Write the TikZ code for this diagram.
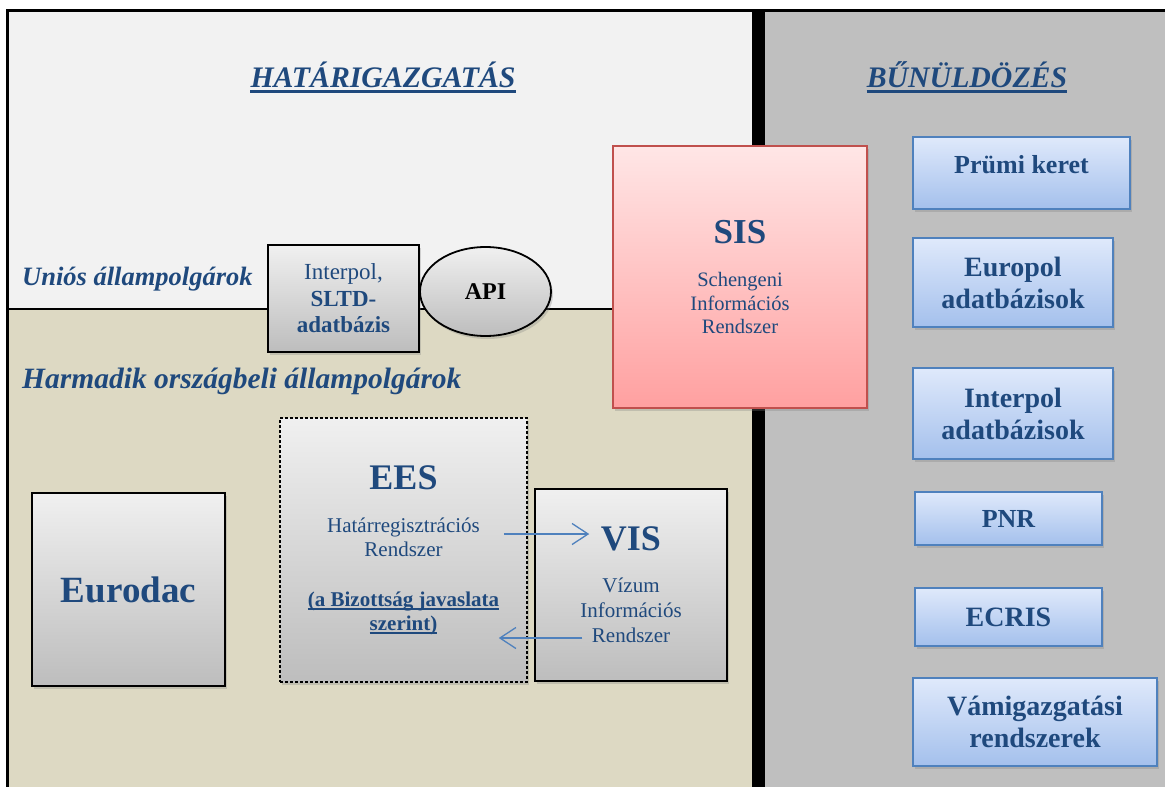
\documentclass[tikz,border=0pt]{standalone}
\usepackage{fontspec}
\setmainfont{Liberation Serif}
\usetikzlibrary{arrows.meta,shadows,shapes.geometric}

\definecolor{txtblue}{HTML}{1F497D}
\definecolor{bgLight}{HTML}{F2F2F2}
\definecolor{bgTan}{HTML}{DDD9C3}
\definecolor{bgGray}{HTML}{BFBFBF}
\definecolor{grayTop}{HTML}{F0F0F0}
\definecolor{grayBot}{HTML}{BDBDBD}
\definecolor{blueTop}{HTML}{DFE9FB}
\definecolor{blueBot}{HTML}{A4C0EC}
\definecolor{boxBlue}{HTML}{4F81BD}
\definecolor{sisTop}{HTML}{FFE6E6}
\definecolor{sisBot}{HTML}{FFA0A0}
\definecolor{sisRed}{HTML}{C0504D}

\newcommand{\pxfont}[2]{\fontsize{#1}{#2}\selectfont}
\newsavebox{\ulbox}
\newcommand{\thickul}[1]{\sbox{\ulbox}{#1}\usebox{\ulbox}\llap{\rule[-3.5pt]{\wd\ulbox}{1.8pt}}}

\begin{document}
\begin{tikzpicture}[x=1pt, y=-1pt,
    every node/.style={text=txtblue, align=center, inner sep=0pt},
    shadowed/.style={drop shadow={opacity=.3, shadow xshift=2pt, shadow yshift=-3pt}},
    sysbox/.style={shadowed, draw=black, line width=1.5pt, top color=grayTop, bottom color=grayBot},
    dbbox/.style={shadowed, draw=boxBlue, line width=1.8pt, top color=blueTop, bottom color=blueBot, font=\pxfont{28}{32}\bfseries},
    title/.style={anchor=base, font=\pxfont{29.8}{34}\bfseries\itshape},
    grouplabel/.style={anchor=base west, font=\pxfont{26.5}{30}\bfseries\itshape},
    flow/.style={-{Straight Barb[length=16pt,width=21pt]}, draw=boxBlue, line width=1.3pt}]
    \useasboundingbox (0,0) rectangle (1165,787);
    \clip (0,0) rectangle (1165,787);
    % panels
    \fill[white] (0,0) rectangle (1165,787);
    \fill[bgLight] (7,10) rectangle (752,309);
    \fill[bgTan] (7,309) rectangle (752,800);
    \fill[bgGray] (765,10) rectangle (1180,800);
    \fill[black] (752,10) rectangle (765,800);
    \draw[line width=2pt] (7,309) -- (752,309);
    \draw[line width=3pt] (7,800) -- (7,10) -- (1180,10);
    % headings
    \node[title] (hat) at (383,87) {HATÁRIGAZGATÁS};
    \node[title] (bun) at (967,87) {BŰNÜLDÖZÉS};
    \foreach \t in {hat, bun} {
        \draw[txtblue, line width=3pt] ([yshift=-4.5pt]\t.base west) -- ([yshift=-4.5pt]\t.base east);
    }
    \node[grouplabel] (eu)  at (22,285) {Uniós állampolgárok};
    \node[grouplabel, font=\pxfont{29.5}{33}\bfseries\itshape] (tcn) at (22,388) {Harmadik országbeli állampolgárok};
    % border systems
    \node[sysbox, minimum width=151pt, minimum height=107pt, font=\pxfont{23}{26.5}] (sltd) at (343.5,298.5)
        {Interpol,\\\textbf{SLTD-}\\\textbf{adatbázis}};
    \node[ellipse, shadowed, draw=black, line width=1.8pt, top color=grayTop, bottom color=grayBot,
          minimum width=131pt, minimum height=89pt, text=black, font=\pxfont{24}{28}\bfseries] (api) at (485.5,291.5) {API};
    \node[shadowed, draw=sisRed, line width=1.8pt, top color=sisTop, bottom color=sisBot,
          minimum width=254pt, minimum height=262pt, font=\pxfont{20.5}{23.5}] (sis) at (740,277)
        {{\pxfont{35}{35}\bfseries SIS}\\[20pt]Schengeni\\Információs\\Rendszer};
    \node[sysbox, dash pattern=on 3pt off 2pt, minimum width=247pt, minimum height=264pt, font=\pxfont{21}{24}] (ees) at (403.5,550)
        {{\pxfont{36}{36}\bfseries EES}\\[19pt]Határregisztrációs\\Rendszer\\[26pt]
         \thickul{\bfseries(a Bizottság javaslata}\\\thickul{\bfseries szerint)}};
    \node[sysbox, minimum width=192pt, minimum height=192pt, font=\pxfont{21}{25}] (vis) at (631,585)
        {{\pxfont{36}{36}\bfseries VIS}\\[17pt]Vízum\\Információs\\Rendszer};
    \node[sysbox, minimum width=193pt, minimum height=193pt, font=\pxfont{37}{40}\bfseries] (eurodac) at (128.5,589.5) {Eurodac};
    \draw[flow] ([shift={(-24,-16)}]ees.east) -- ([shift={(55,-51)}]vis.west);
    \draw[flow] ([shift={(48,53)}]vis.west) -- ([shift={(-29,88)}]ees.east);
    % law enforcement
    \node[dbbox, minimum width=217pt, minimum height=72pt, text depth=17pt, font=\pxfont{26}{30}\bfseries] (prum) at (1021.5,173) {Prümi keret};
    \node[dbbox, minimum width=200pt, minimum height=89pt] (europol) at (1013,282.5) {Europol\\adatbázisok};
    \node[dbbox, minimum width=200pt, minimum height=91pt] (interpol) at (1013,413.5) {Interpol\\adatbázisok};
    \node[dbbox, minimum width=187pt, minimum height=53pt, font=\pxfont{26}{30}\bfseries] (pnr) at (1008.5,518.5) {PNR};
    \node[dbbox, minimum width=187pt, minimum height=58pt] (ecris) at (1008.5,617) {ECRIS};
    \node[dbbox, minimum width=244pt, minimum height=88pt] (vam) at (1035,722) {Vámigazgatási\\rendszerek};
\end{tikzpicture}
\end{document}
